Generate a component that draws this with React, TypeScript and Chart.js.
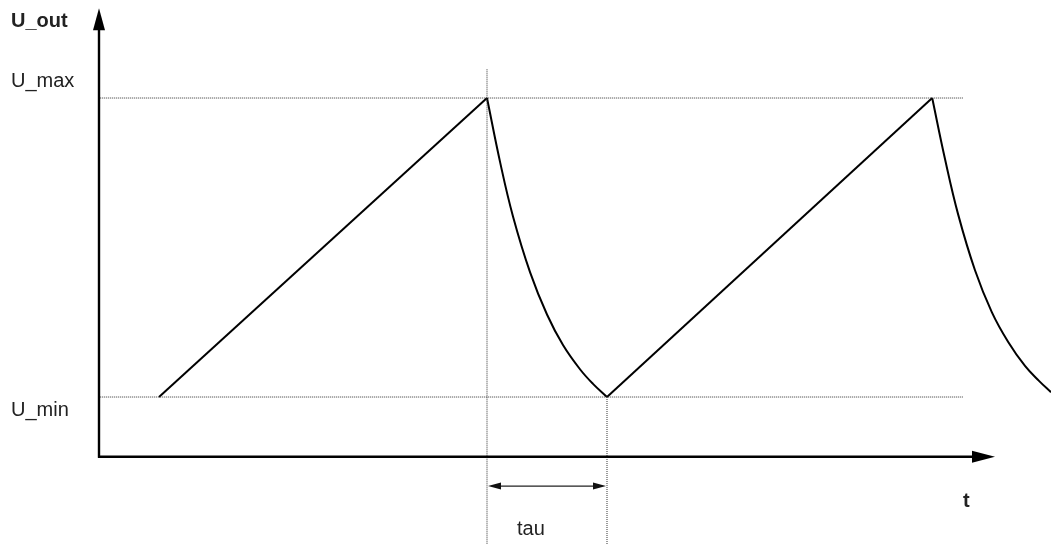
import React, { useEffect, useRef } from "react";
import { Chart, registerables } from "chart.js";

Chart.register(...registerables);

// Levels (volts, arbitrary units)
const U_MIN = 1;
const U_MAX = 6;
const TAU_START = 9.7;
const TAU_END = 12.7;

// Charging ramps
const rise1T = [1.5, 9.7];
const rise1U = [1, 6];
const rise2T = [12.7, 20.83];
const rise2U = [1, 6];

// Discharge curves
const decay1T = [9.7, 10.03, 10.35, 10.78, 11.2, 11.6, 12.03, 12.35, 12.7];
const decay1U = [6, 4.92, 4.02, 3.08, 2.38, 1.87, 1.46, 1.22, 1.0];
const decay2T = [20.83, 21.15, 21.48, 21.9, 22.32, 22.73, 23.15, 23.5, 23.8];
const decay2U = [6, 4.98, 4.05, 3.12, 2.42, 1.92, 1.52, 1.27, 1.08];

// Guide lines
const guideXStart = 0.03;
const guideXEnd = 21.6;
const guideTopTau = 6.48;
const bottomU = -1.46;

// Labels
const labelYAxis = "U_out";
const labelMax = "U_max";
const labelMin = "U_min";
const labelX = "t";
const labelTau = "tau";

const zip = (xs: number[], ys: number[]) => xs.map((x, i) => ({ x, y: ys[i] }));

const FONT = '"Liberation Sans", Arial, Helvetica, sans-serif';

const overlay = {
  id: "overlay",
  afterDatasetsDraw(chart: any) {
    const { ctx } = chart;
    const xs = chart.scales.x;
    const ys = chart.scales.y;
    const ox = xs.getPixelForValue(0);
    const oy = ys.getPixelForValue(0);
    const xTip = xs.getPixelForValue(22.4);
    const yTip = ys.getPixelForValue(7.5);
    ctx.save();
    ctx.strokeStyle = "#000";
    ctx.fillStyle = "#000";
    ctx.lineWidth = 2.4;
    // y axis
    ctx.beginPath();
    ctx.moveTo(ox, oy + 1);
    ctx.lineTo(ox, yTip + 15);
    ctx.stroke();
    ctx.beginPath();
    ctx.moveTo(ox, yTip);
    ctx.lineTo(ox - 6, yTip + 22);
    ctx.lineTo(ox + 6, yTip + 22);
    ctx.closePath();
    ctx.fill();
    // x axis
    ctx.beginPath();
    ctx.moveTo(ox - 1, oy);
    ctx.lineTo(xTip - 15, oy);
    ctx.stroke();
    ctx.beginPath();
    ctx.moveTo(xTip, oy);
    ctx.lineTo(xTip - 23, oy - 6);
    ctx.lineTo(xTip - 23, oy + 6);
    ctx.closePath();
    ctx.fill();

    // tau arrow
    const ta = xs.getPixelForValue(TAU_START) + 1;
    const tb = xs.getPixelForValue(TAU_END) - 1;
    const ty = ys.getPixelForValue(-0.49);
    ctx.lineWidth = 1.3;
    ctx.strokeStyle = "#222";
    ctx.fillStyle = "#111";
    ctx.beginPath();
    ctx.moveTo(ta + 8, ty);
    ctx.lineTo(tb - 8, ty);
    ctx.stroke();
    ctx.beginPath();
    ctx.moveTo(ta, ty);
    ctx.lineTo(ta + 13, ty - 3.5);
    ctx.lineTo(ta + 13, ty + 3.5);
    ctx.closePath();
    ctx.fill();
    ctx.beginPath();
    ctx.moveTo(tb, ty);
    ctx.lineTo(tb - 13, ty - 3.5);
    ctx.lineTo(tb - 13, ty + 3.5);
    ctx.closePath();
    ctx.fill();

    // texts
    ctx.fillStyle = "#222";
    ctx.textBaseline = "alphabetic";
    ctx.textAlign = "left";
    ctx.font = `bold 20px ${FONT}`;
    ctx.fillText(labelYAxis, 11, 27);
    ctx.fillText(labelX, 963, 507);
    ctx.font = `20px ${FONT}`;
    ctx.fillText(labelMax, 11, ys.getPixelForValue(U_MAX) - 11);
    ctx.fillText(labelMin, 11, ys.getPixelForValue(U_MIN) + 19);
    ctx.fillText(labelTau, 517, 535);
    ctx.restore();
  },
};

export default function App() {
  const ref = useRef<HTMLCanvasElement | null>(null);
  useEffect(() => {
    document.body.style.margin = "0";
    const canvas = ref.current!;
    const lineDs = (data: any[], extra: any = {}) => ({
      data,
      showLine: true,
      borderColor: "#000",
      borderWidth: 2,
      pointRadius: 0,
      fill: false,
      tension: 0,
      ...extra,
    });
    const guide = (data: any[]) => ({
      data,
      showLine: true,
      borderColor: "#333",
      borderWidth: 1,
      borderDash: [1, 1],
      pointRadius: 0,
      fill: false,
    });
    const chart = new Chart(canvas, {
      type: "scatter",
      data: {
        datasets: [
          guide(zip([guideXStart, guideXEnd], [U_MAX, U_MAX])),
          guide(zip([guideXStart, guideXEnd], [U_MIN, U_MIN])),
          guide(zip([TAU_START, TAU_START], [guideTopTau, bottomU])),
          guide(zip([TAU_END, TAU_END], [U_MIN, bottomU])),
          lineDs(zip(rise1T, rise1U)),
          lineDs(zip(decay1T, decay1U), { tension: 0.4 }),
          lineDs(zip(rise2T, rise2U)),
          lineDs(zip(decay2T, decay2U), { tension: 0.4 }),
        ] as any,
      },
      options: {
        animation: false,
        responsive: false,
        layout: { padding: 0 },
        plugins: { legend: { display: false }, tooltip: { enabled: false } },
        scales: {
          x: { type: "linear", min: -2.475, max: 23.8, display: false },
          y: { type: "linear", min: -1.458, max: 7.639, display: false },
        },
      },
      plugins: [overlay],
    });
    return () => chart.destroy();
  }, []);
  return (
    <div style={{ width: 1051, height: 544, background: "#fff" }}>
      <canvas ref={ref} width={1051} height={544} />
    </div>
  );
}
